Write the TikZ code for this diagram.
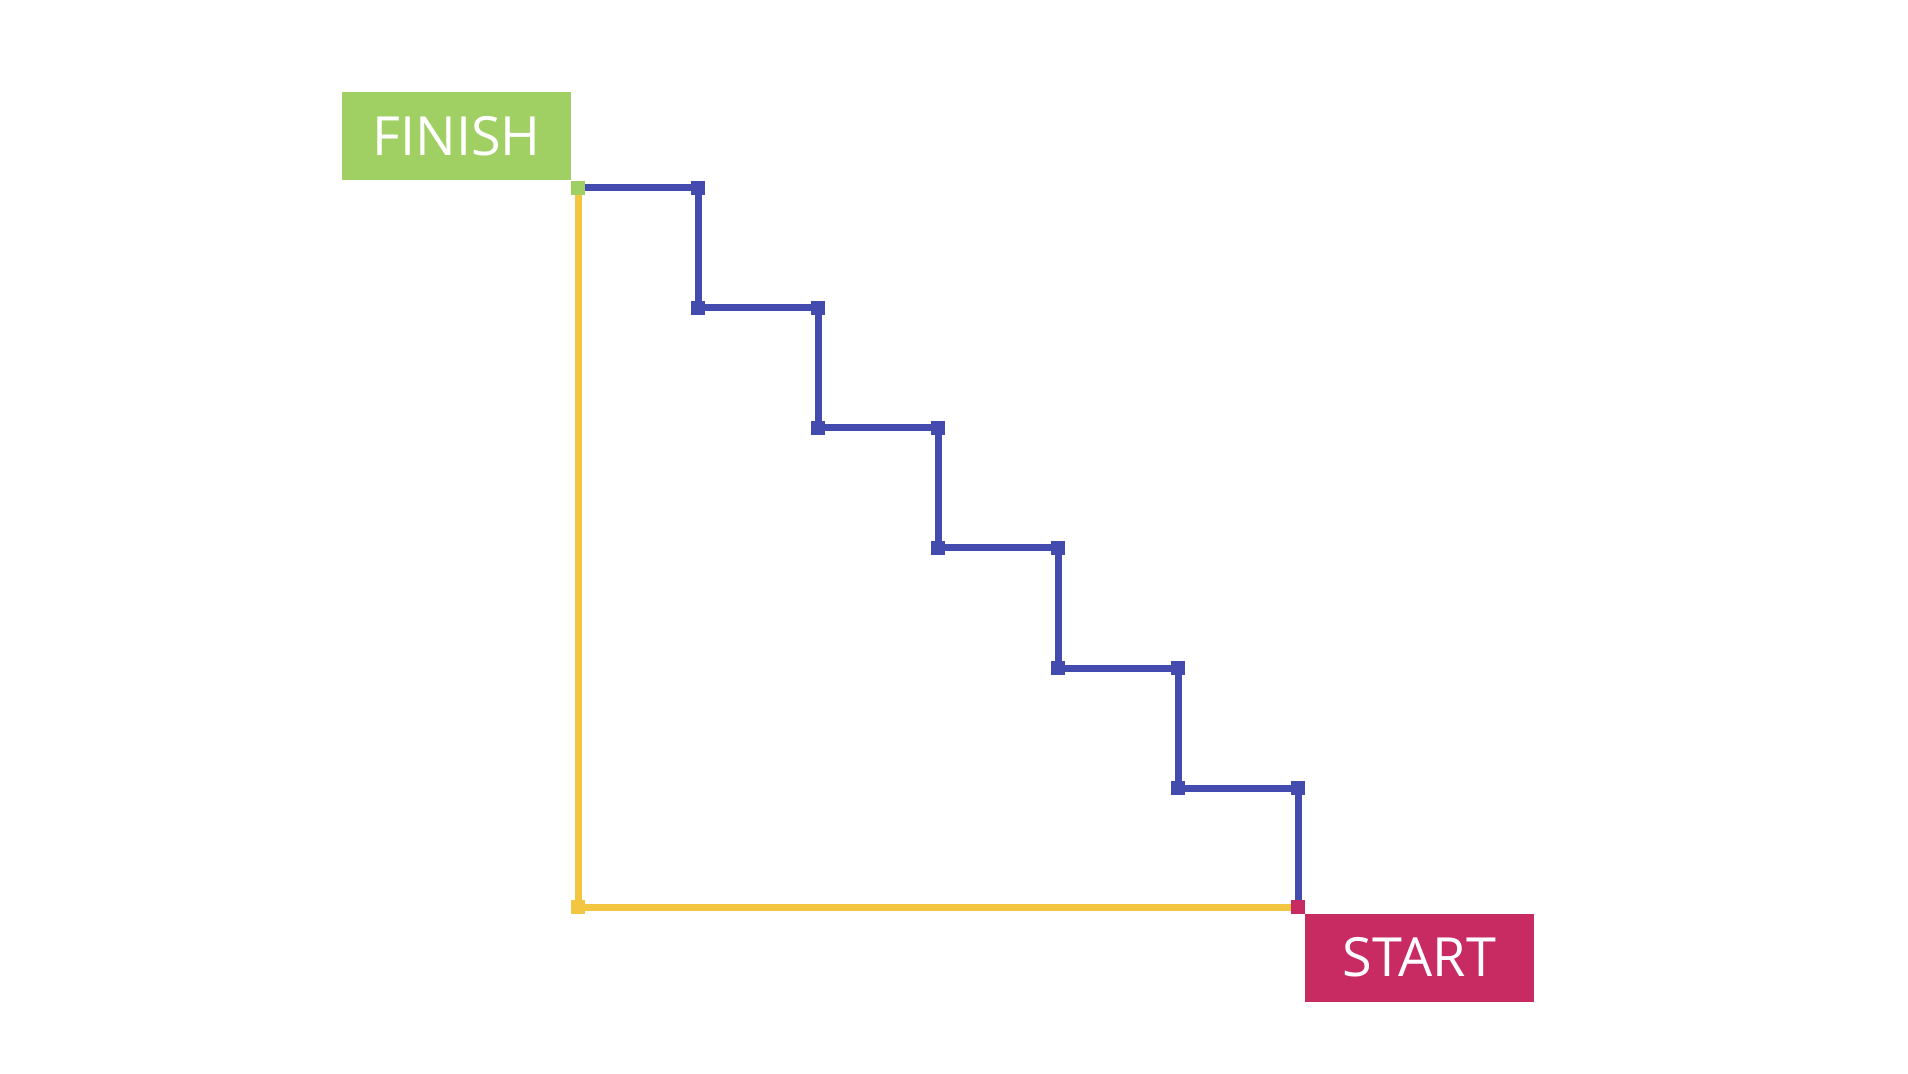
\documentclass[tikz,border=0pt]{standalone}
\usepackage{fontspec}
\setmainfont{Open Sans}
\definecolor{finishgreen}{HTML}{A0D064}
\definecolor{startred}{HTML}{C82A62}
\definecolor{stepblue}{HTML}{434BAE}
\definecolor{pathyellow}{HTML}{F2C641}
\tikzset{
    label box/.style={rectangle, minimum width=114.5pt, minimum height=44pt,
        inner sep=0pt, text=white, font=\fontsize{27}{32}\selectfont},
    corner/.style={rectangle, minimum size=7pt, inner sep=0pt, fill=#1},
    blue line/.style={stepblue, line width=3.5pt},
    yellow line/.style={pathyellow, line width=3.5pt}
}

\begin{document}
\begin{tikzpicture}[x=0.5pt, y=0.5pt]
    \useasboundingbox (0,0) rectangle (1908,1073);
    %labels
    \node[label box, fill=finishgreen] (finish) at (456.5, 937) {FINISH};
    \node[label box, fill=startred] (start) at (1419.5, 115.5) {START};
    %corners
    \coordinate (c0) at (578, 885);
    \coordinate (c1) at (698, 885);
    \coordinate (c2) at (698, 765);
    \coordinate (c3) at (818, 765);
    \coordinate (c4) at (818, 645);
    \coordinate (c5) at (938, 645);
    \coordinate (c6) at (938, 525);
    \coordinate (c7) at (1058, 525);
    \coordinate (c8) at (1058, 405);
    \coordinate (c9) at (1178, 405);
    \coordinate (c10) at (1178, 285);
    \coordinate (c11) at (1298, 285);
    \coordinate (c12) at (1298, 166);
    \coordinate (bend) at (578, 166);
    %short way
    \draw[yellow line] (c0) -- (bend) -- (c12);
    %stairs
    \draw[blue line] (c0) -- (c1) -- (c2) -- (c3) -- (c4) -- (c5) -- (c6)
        -- (c7) -- (c8) -- (c9) -- (c10) -- (c11) -- (c12);
    %squares
    \node[corner=finishgreen] (sq0) at (c0) {};
    \node[corner=stepblue] (sq1) at (c1) {};
    \node[corner=stepblue] (sq2) at (c2) {};
    \node[corner=stepblue] (sq3) at (c3) {};
    \node[corner=stepblue] (sq4) at (c4) {};
    \node[corner=stepblue] (sq5) at (c5) {};
    \node[corner=stepblue] (sq6) at (c6) {};
    \node[corner=stepblue] (sq7) at (c7) {};
    \node[corner=stepblue] (sq8) at (c8) {};
    \node[corner=stepblue] (sq9) at (c9) {};
    \node[corner=stepblue] (sq10) at (c10) {};
    \node[corner=stepblue] (sq11) at (c11) {};
    \node[corner=startred] (sq12) at (c12) {};
    \node[corner=pathyellow] (sqbend) at (bend) {};
\end{tikzpicture}
\end{document}
